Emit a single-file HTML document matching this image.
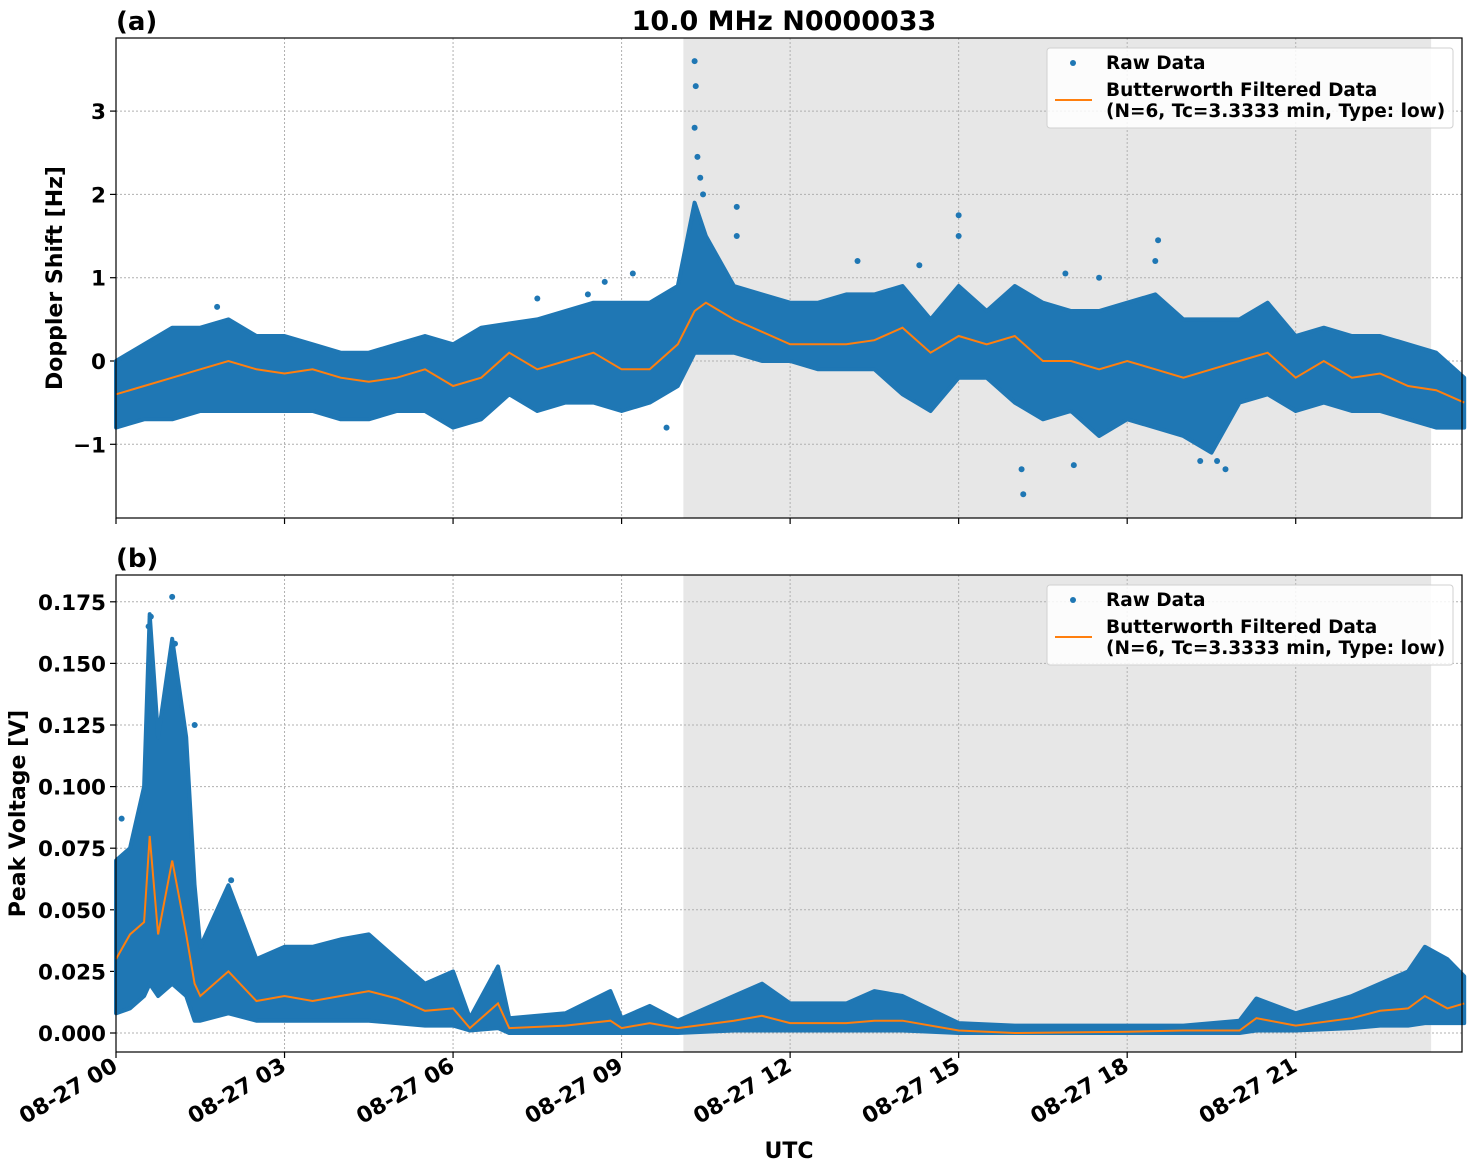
<!DOCTYPE html>
<html><head><meta charset="utf-8"><style>
body{margin:0;background:#fff;}
svg{display:block;font-family:"DejaVu Sans","Liberation Sans",sans-serif;font-weight:bold;}
</style></head><body>
<svg id="chart" width="1472" height="1172" viewBox="0 0 1472 1172" xmlns="http://www.w3.org/2000/svg"></svg>
<script>
// ---------- data ----------
const xTickHours = [0,3,6,9,12,15,18,21];
const xTickLabels = ["08-27 00","08-27 03","08-27 06","08-27 09","08-27 12","08-27 15","08-27 18","08-27 21"];
const shadeStartH = 10.1, shadeEndH = 23.41;

const aTicks = [-1,0,1,2,3];
const aTickLabels = ["\u22121","0","1","2","3"];
const aTimes = [0,0.5,1,1.5,2,2.5,3,3.5,4,4.5,5,5.5,6,6.5,7,7.5,8,8.5,9,9.5,10,10.3,10.5,11,11.5,12,12.5,13,13.5,14,14.5,15,15.5,16,16.5,17,17.5,18,18.5,19,19.5,20,20.5,21,21.5,22,22.5,23,23.5,24];
const aFilt = [-0.4,-0.3,-0.2,-0.1,0.0,-0.1,-0.15,-0.1,-0.2,-0.25,-0.2,-0.1,-0.3,-0.2,0.1,-0.1,0.0,0.1,-0.1,-0.1,0.2,0.6,0.7,0.5,0.35,0.2,0.2,0.2,0.25,0.4,0.1,0.3,0.2,0.3,0.0,0.0,-0.1,0.0,-0.1,-0.2,-0.1,0.0,0.1,-0.2,0.0,-0.2,-0.15,-0.3,-0.35,-0.5];
const aHi = [0.0,0.2,0.4,0.4,0.5,0.3,0.3,0.2,0.1,0.1,0.2,0.3,0.2,0.4,0.45,0.5,0.6,0.7,0.7,0.7,0.9,1.9,1.5,0.9,0.8,0.7,0.7,0.8,0.8,0.9,0.5,0.9,0.6,0.9,0.7,0.6,0.6,0.7,0.8,0.5,0.5,0.5,0.7,0.3,0.4,0.3,0.3,0.2,0.1,-0.2];
const aLo = [-0.8,-0.7,-0.7,-0.6,-0.6,-0.6,-0.6,-0.6,-0.7,-0.7,-0.6,-0.6,-0.8,-0.7,-0.4,-0.6,-0.5,-0.5,-0.6,-0.5,-0.3,0.1,0.1,0.1,0.0,0.0,-0.1,-0.1,-0.1,-0.4,-0.6,-0.2,-0.2,-0.5,-0.7,-0.6,-0.9,-0.7,-0.8,-0.9,-1.1,-0.5,-0.4,-0.6,-0.5,-0.6,-0.6,-0.7,-0.8,-0.8];
const aOutT = [10.3,10.32,10.3,10.35,10.4,10.45,11.05,11.05,15.0,15.0,18.55,18.5,16.15,16.12,19.75,19.6,9.2,8.7,8.4,13.2,14.3,16.9,17.5,7.5,1.8,9.8,17.05,19.3];
const aOutV = [3.6,3.3,2.8,2.45,2.2,2.0,1.85,1.5,1.75,1.5,1.45,1.2,-1.6,-1.3,-1.3,-1.2,1.05,0.95,0.8,1.2,1.15,1.05,1.0,0.75,0.65,-0.8,-1.25,-1.2];

const bTicks = [0,0.025,0.05,0.075,0.1,0.125,0.15,0.175];
const bTickLabels = ["0.000","0.025","0.050","0.075","0.100","0.125","0.150","0.175"];
const bTimes = [0,0.25,0.5,0.6,0.75,1.0,1.25,1.4,1.5,2.0,2.5,3,3.5,4,4.5,5,5.5,6,6.3,6.8,7,8,8.8,9,9.5,10,11,11.5,12,13,13.5,14,15,16,18,19,20,20.3,21,22,22.5,23,23.3,23.7,24];
const bFilt = [0.03,0.04,0.045,0.08,0.04,0.07,0.04,0.02,0.015,0.025,0.013,0.015,0.013,0.015,0.017,0.014,0.009,0.01,0.002,0.012,0.002,0.003,0.005,0.002,0.004,0.002,0.005,0.007,0.004,0.004,0.005,0.005,0.001,0.0,0.0005,0.001,0.001,0.006,0.003,0.006,0.009,0.01,0.015,0.01,0.012];
const bHi = [0.07,0.075,0.1,0.17,0.12,0.16,0.12,0.06,0.035,0.06,0.03,0.035,0.035,0.038,0.04,0.03,0.02,0.025,0.006,0.027,0.006,0.008,0.017,0.006,0.011,0.005,0.015,0.02,0.012,0.012,0.017,0.015,0.004,0.003,0.003,0.003,0.005,0.014,0.008,0.015,0.02,0.025,0.035,0.03,0.023];
const bLo = [0.008,0.01,0.015,0.02,0.015,0.02,0.015,0.005,0.005,0.008,0.005,0.005,0.005,0.005,0.005,0.004,0.003,0.003,0.001,0.002,0.0,0.0,0.0,0.0,0.0,0.0,0.001,0.001,0.001,0.001,0.001,0.001,0.0,0.0,0.0,0.0,0.0,0.001,0.001,0.002,0.003,0.003,0.004,0.004,0.004];
const bOutT = [1.0,0.62,0.58,1.05,1.4,2.05,0.1];
const bOutV = [0.177,0.169,0.165,0.158,0.125,0.062,0.087];

// ---------- layout ----------
const X0=116, X1=1462, H0=0, H1=23.96;
const xs = h => X0 + (h-H0)/(H1-H0)*(X1-X0);
const ya = v => 361 - v*83.3;
const yb = v => 1033 - v*2464;
const svg = document.getElementById('chart');
const NS = "http://www.w3.org/2000/svg";
function mk(tag, attrs, parent){const e=document.createElementNS(NS,tag);for(const k in attrs)e.setAttribute(k,attrs[k]);(parent||svg).appendChild(e);return e;}

function panel(top,bottom,yf,ticks,labels,times,lo,hi,filt,outT,outV,pname,ylabel,ylabelY){
  const g=mk('g',{});
  
  
  const sh=mk('rect',{x:xs(shadeStartH),y:top,width:xs(shadeEndH)-xs(shadeStartH),height:bottom-top,fill:'#e7e7e7'},g);
  
  
  xTickHours.forEach(h=>{mk('line',{x1:xs(h),x2:xs(h),y1:top,y2:bottom,stroke:'#b0b0b0','stroke-width':1,'stroke-dasharray':'2,2'},g);});
  ticks.forEach((v,i)=>{
    mk('line',{x1:X0,x2:X1,y1:yf(v),y2:yf(v),stroke:'#b0b0b0','stroke-width':1,'stroke-dasharray':'2,2'},g);
    mk('line',{x1:X0-6,x2:X0,y1:yf(v),y2:yf(v),stroke:'#000','stroke-width':1.2},g);
    const t=mk('text',{x:X0-10,y:yf(v)+8,'text-anchor':'end','font-size':21.5},g);
    t.textContent=labels[i];
    
    
  });
  let d='';
  times.forEach((h,i)=>{d+=(i?'L':'M')+xs(h).toFixed(1)+','+yf(hi[i]).toFixed(1);});
  for(let i=times.length-1;i>=0;i--){d+='L'+xs(times[i]).toFixed(1)+','+yf(lo[i]).toFixed(1);}
  const band=mk('path',{d:d+'Z',fill:'#1f77b4',stroke:'#1f77b4','stroke-width':4,'stroke-linejoin':'round'},g);
  
  
  outT.forEach((h,i)=>{
    const c=mk('circle',{cx:xs(h),cy:yf(outV[i]),r:3,fill:'#1f77b4'},g);
    
    
  });
  let dl='';
  times.forEach((h,i)=>{dl+=(i?'L':'M')+xs(h).toFixed(1)+','+yf(filt[i]).toFixed(1);});
  const ln=mk('path',{d:dl,fill:'none',stroke:'#ff7f0e','stroke-width':2},g);
  
  
  xTickHours.forEach(h=>{mk('line',{x1:xs(h),x2:xs(h),y1:bottom,y2:bottom+6,stroke:'#000','stroke-width':1.2},g);});
  mk('rect',{x:X0,y:top,width:X1-X0,height:bottom-top,fill:'none',stroke:'#000','stroke-width':1.2},g);
  const yl=mk('text',{x:0,y:0,'text-anchor':'middle','font-size':22,transform:`translate(${ylabelY},${(top+bottom)/2}) rotate(-90)`},g);
  yl.textContent=ylabel;
  
  
  const lg=mk('g',{},g);
  
  
  const ly=top+10;
  mk('rect',{x:1047,y:ly,width:406,height:80,fill:'#fff','fill-opacity':0.85,stroke:'#d0d0d0',rx:3},lg);
  mk('circle',{cx:1073,cy:ly+15,r:3,fill:'#1f77b4'},lg);
  let t=mk('text',{x:1106,y:ly+21,'font-size':18.5},lg);t.textContent='Raw Data';
  mk('line',{x1:1055,x2:1092,y1:ly+52,y2:ly+52,stroke:'#ff7f0e','stroke-width':2},lg);
  t=mk('text',{x:1106,y:ly+48,'font-size':18.5},lg);t.textContent='Butterworth Filtered Data';
  t=mk('text',{x:1106,y:ly+69,'font-size':18.5},lg);t.textContent='(N=6, Tc=3.3333 min, Type: low)';
}

panel(38,518,ya,aTicks,aTickLabels,aTimes,aLo,aHi,aFilt,aOutT,aOutV,'panel-a-doppler','Doppler Shift [Hz]',62);
panel(575,1052,yb,bTicks,bTickLabels,bTimes,bLo,bHi,bFilt,bOutT,bOutV,'panel-b-voltage','Peak Voltage [V]',25);

xTickHours.forEach((h,i)=>{
  const t=mk('text',{x:0,y:0,'text-anchor':'end','font-size':22,transform:`translate(${xs(h)+3},${1070}) rotate(-30)`});
  t.textContent=xTickLabels[i];
  
  
});
let t=mk('text',{x:789,y:1158,'text-anchor':'middle','font-size':22});t.textContent='UTC';


t=mk('text',{x:784,y:30,'text-anchor':'middle','font-size':27});t.textContent='10.0 MHz N0000033';


t=mk('text',{x:116,y:30,'font-size':26});t.textContent='(a)';


t=mk('text',{x:116,y:567,'font-size':26});t.textContent='(b)';


</script>
</body></html>
